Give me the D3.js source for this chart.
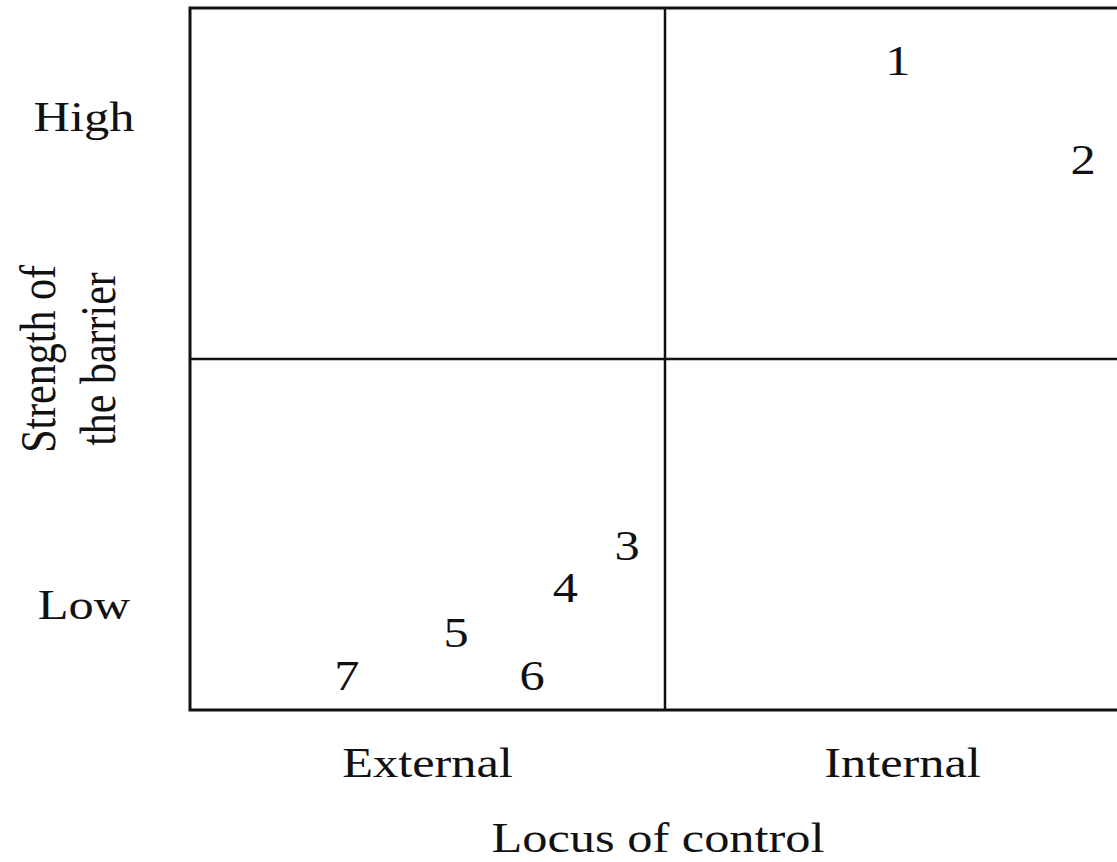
<!DOCTYPE html>
<html>
<head>
<meta charset="utf-8">
<script src="https://cdn.jsdelivr.net/npm/d3@7"></script>
<style>
  body { margin: 0; background: #fff; }
  text { font-family: "Liberation Serif", "Times New Roman", serif; font-size: 42px; fill: #111; }
</style>
</head>
<body>
<div class="chart"></div>
<script>
// quadrant categories
const xCategories = ["External", "Internal"];
const xCatValues = [0.5, 1.5];
const yTickLabels = ["Low", "High"];
const yTickValues = [0.3, 1.69];

// numbered items (locus of control, strength of barrier)
const itemLabels = ["1", "2", "3", "4", "5", "6", "7"];
const itemX = [1.49, 1.88, 0.92, 0.79, 0.56, 0.72, 0.33];
const itemY = [1.85, 1.57, 0.47, 0.35, 0.22, 0.10, 0.10];

const xTitle = "Locus of control";
const yTitle = ["Strength of", "the barrier"];

const svgWidth = 1117, svgHeight = 862;
const stretch = 1.2; // glyphs in the original are wider than they are tall

const svg = d3.select(".chart")
  .append("svg")
  .attr("width", svgWidth)
  .attr("height", svgHeight);

const x = d3.scaleLinear().domain([0, 2]).range([190, 1140]);
const y = d3.scaleLinear().domain([0, 2]).range([710, 8]);

// outer box and dividers
svg.append("rect")
  .attr("x", x(0))
  .attr("y", y(2))
  .attr("width", x(2) - x(0))
  .attr("height", y(0) - y(2))
  .attr("fill", "none")
  .attr("stroke", "#111")
  .attr("stroke-width", 3);

svg.append("line")
  .attr("x1", x(1)).attr("x2", x(1))
  .attr("y1", y(0)).attr("y2", y(2))
  .attr("stroke", "#111").attr("stroke-width", 2.5);

svg.append("line")
  .attr("x1", x(0)).attr("x2", x(2))
  .attr("y1", y(1)).attr("y2", y(1))
  .attr("stroke", "#111").attr("stroke-width", 2.5);

// item numbers
svg.selectAll("text.item")
  .data(itemLabels)
  .enter()
  .append("text")
  .attr("class", "item")
  .attr("text-anchor", "middle")
  .attr("dy", "0.35em")
  .attr("transform", (d, i) => `translate(${x(itemX[i])}, ${y(itemY[i])}) scale(${stretch},1)`)
  .text(d => d);

// x category labels
svg.selectAll("text.xcat")
  .data(xCategories)
  .enter()
  .append("text")
  .attr("class", "xcat")
  .attr("text-anchor", "middle")
  .attr("transform", (d, i) => `translate(${x(xCatValues[i])}, 777) scale(${stretch},1)`)
  .text(d => d);

// y tick labels
svg.selectAll("text.ytick")
  .data(yTickLabels)
  .enter()
  .append("text")
  .attr("class", "ytick")
  .attr("text-anchor", "middle")
  .attr("dy", "0.33em")
  .attr("transform", (d, i) => `translate(84, ${y(yTickValues[i])}) scale(${stretch},1)`)
  .text(d => d);

// axis titles
svg.append("text")
  .attr("text-anchor", "middle")
  .attr("transform", `translate(${(x(0) + x(2)) / 2 - 7}, 852) scale(${stretch},1)`)
  .text(xTitle);

svg.selectAll("text.ytitle")
  .data(yTitle)
  .enter()
  .append("text")
  .attr("class", "ytitle")
  .attr("text-anchor", "middle")
  .attr("transform", (d, i) => `translate(${55 + i * 60}, ${y(1)}) scale(${stretch},1) rotate(-90)`)
  .text(d => d);
</script>
</body>
</html>
